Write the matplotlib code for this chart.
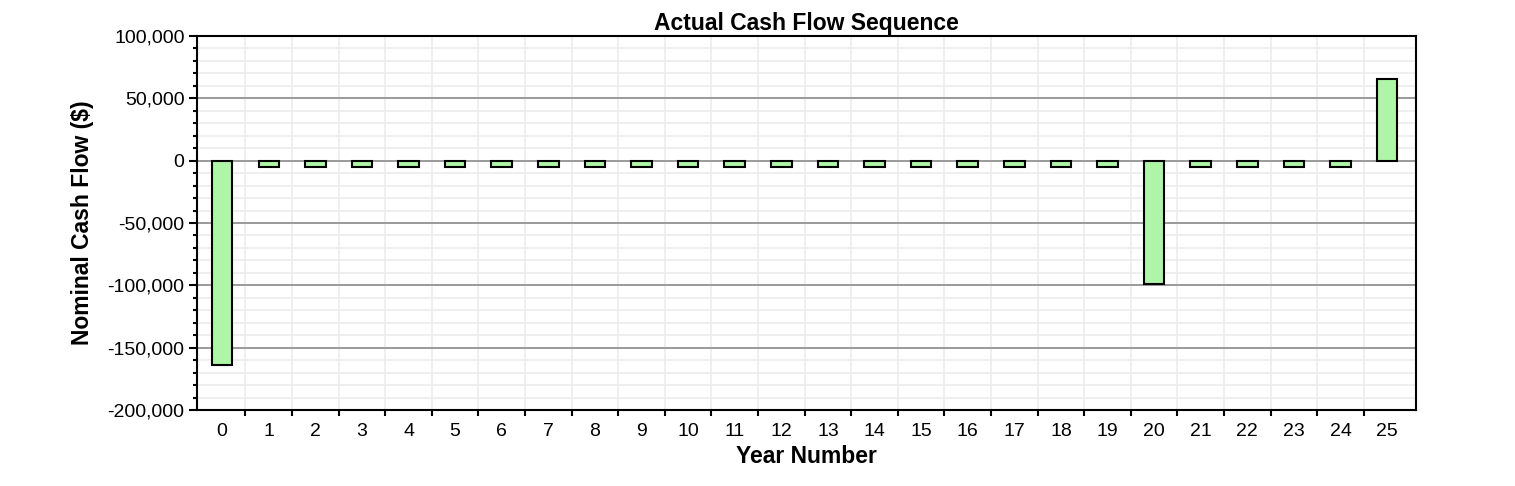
import matplotlib.pyplot as plt
from matplotlib.ticker import FuncFormatter, MultipleLocator

plt.rcParams["font.family"] = ["Liberation Sans", "DejaVu Sans"]

years = list(range(26))
cash_flow = [-164000] + [-5200] * 19 + [-99000] + [-5200] * 4 + [65500]

TITLE = "Actual Cash Flow Sequence"
X_LABEL = "Year Number"
Y_LABEL = "Nominal Cash Flow ($)"


def main() -> None:
    fig = plt.figure(figsize=(15.15, 4.86), dpi=100)
    ax = fig.add_axes([197 / 1515, 1 - 410 / 486, (1416 - 197) / 1515, (410 - 36) / 486])

    ax.bar(years, cash_flow, width=0.44, color="#aef5a8", edgecolor="black",
           linewidth=1.5, zorder=3)

    ax.set_xlim(-0.54, 25.62)
    ax.set_ylim(-200000, 100000)

    ax.set_xticks(years)
    ax.set_xticks([y + 0.5 for y in years[:-1]], minor=True)
    ax.tick_params(axis="x", which="major", length=0, pad=9, labelsize=14)
    ax.tick_params(axis="x", which="minor", length=4, width=1.5, direction="out")

    ax.yaxis.set_major_locator(MultipleLocator(50000))
    ax.yaxis.set_minor_locator(MultipleLocator(10000))
    ax.yaxis.set_major_formatter(FuncFormatter(lambda v, _: f"{int(v):,}"))
    ax.tick_params(axis="y", which="major", length=6, width=1.5, labelsize=14, pad=3)
    ax.tick_params(axis="y", which="minor", length=3, width=1.5)

    ax.grid(True, axis="y", which="major", color="#9a9a9a", linewidth=1.4, zorder=1)
    ax.grid(True, axis="y", which="minor", color="#ececec", linewidth=1.2, zorder=0)
    ax.grid(True, axis="x", which="minor", color="#ececec", linewidth=1.2, zorder=0)

    for side in ("left", "bottom", "top", "right"):
        ax.spines[side].set_linewidth(1.5)

    ax.set_title(TITLE, fontsize=16.5, fontweight="bold", pad=4)
    ax.set_xlabel(X_LABEL, fontsize=16.5, fontweight="bold", labelpad=4)
    ax.set_ylabel(Y_LABEL, fontsize=16.5, fontweight="bold", labelpad=10)

    fig.savefig("out.png", dpi=100)


if __name__ == "__main__":
    main()
